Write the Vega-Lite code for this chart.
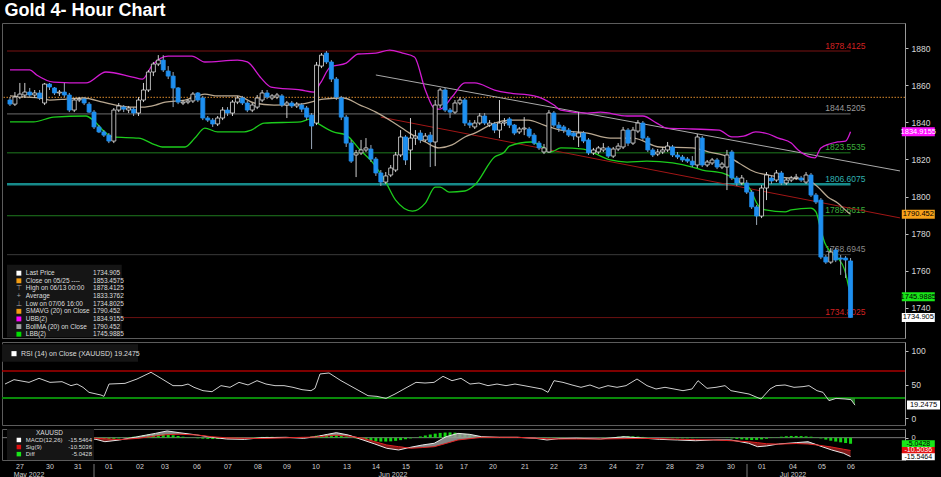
{
"$schema": "https://vega.github.io/schema/vega-lite/v6.json",
"background": "#000000",
"padding": {"top": 1, "left": 0, "right": 0, "bottom": 0},
"spacing": 2,
"title": {"text": "Gold 4- Hour Chart", "anchor": "start", "color": "#ffffff", "font": "Liberation Sans", "fontSize": 18, "fontWeight": "bold", "offset": 3, "dx": 4},
"config": {
  "view": {"stroke": "#5c5c5c", "strokeWidth": 1},
  "axis": {"labelColor": "#d8d8d8", "labelFont": "Liberation Sans", "labelFontSize": 8.5, "tickColor": "#c0c0c0", "tickSize": 3, "labelPadding": 3, "grid": false, "domain": true, "domainColor": "#9a9a9a"},
  "text": {"font": "Liberation Sans"}
},
"datasets": {
"candles": [
{"i":0,"o":1852.0,"h":1853.6,"l":1848.8,"c":1849.8},
{"i":1,"o":1849.8,"h":1856.3,"l":1848.8,"c":1853.6},
{"i":2,"o":1853.6,"h":1861.2,"l":1852.5,"c":1855.2},
{"i":3,"o":1854.7,"h":1861.2,"l":1853.1,"c":1856.3},
{"i":4,"o":1856.3,"h":1858.5,"l":1853.6,"c":1854.7},
{"i":5,"o":1854.7,"h":1857.4,"l":1853.1,"c":1855.8},
{"i":6,"o":1855.8,"h":1857.4,"l":1852.0,"c":1853.1},
{"i":7,"o":1850.4,"h":1861.2,"l":1849.3,"c":1860.6},
{"i":8,"o":1860.6,"h":1861.2,"l":1857.4,"c":1859.0},
{"i":9,"o":1858.5,"h":1859.0,"l":1854.7,"c":1855.8},
{"i":10,"o":1855.8,"h":1857.4,"l":1854.2,"c":1856.3},
{"i":11,"o":1856.3,"h":1861.2,"l":1853.6,"c":1854.7},
{"i":12,"o":1854.7,"h":1855.8,"l":1845.5,"c":1846.6},
{"i":13,"o":1846.6,"h":1853.1,"l":1845.5,"c":1852.0},
{"i":14,"o":1852.0,"h":1853.6,"l":1850.9,"c":1852.5},
{"i":15,"o":1852.5,"h":1853.6,"l":1849.3,"c":1850.4},
{"i":16,"o":1849.8,"h":1850.9,"l":1845.0,"c":1845.5},
{"i":17,"o":1845.5,"h":1846.6,"l":1836.4,"c":1837.5},
{"i":18,"o":1837.5,"h":1838.5,"l":1834.2,"c":1834.8},
{"i":19,"o":1834.8,"h":1835.8,"l":1832.1,"c":1833.1},
{"i":20,"o":1833.1,"h":1834.2,"l":1828.8,"c":1829.9},
{"i":21,"o":1829.9,"h":1847.7,"l":1828.8,"c":1846.6},
{"i":22,"o":1846.6,"h":1850.4,"l":1845.5,"c":1848.8},
{"i":23,"o":1848.2,"h":1849.3,"l":1845.5,"c":1847.1},
{"i":24,"o":1846.6,"h":1848.8,"l":1845.0,"c":1847.7},
{"i":25,"o":1847.1,"h":1848.2,"l":1843.4,"c":1845.0},
{"i":26,"o":1845.0,"h":1853.6,"l":1843.4,"c":1852.0},
{"i":27,"o":1852.0,"h":1861.2,"l":1850.9,"c":1857.4},
{"i":28,"o":1857.4,"h":1868.2,"l":1856.3,"c":1867.1},
{"i":29,"o":1867.1,"h":1872.5,"l":1864.9,"c":1871.4},
{"i":30,"o":1871.4,"h":1876.2,"l":1870.3,"c":1873.5},
{"i":31,"o":1873.5,"h":1876.2,"l":1867.1,"c":1868.2},
{"i":32,"o":1867.6,"h":1870.3,"l":1863.3,"c":1864.9},
{"i":33,"o":1864.9,"h":1867.1,"l":1848.2,"c":1858.5},
{"i":34,"o":1858.5,"h":1859.0,"l":1849.8,"c":1850.9},
{"i":35,"o":1850.4,"h":1852.0,"l":1849.3,"c":1850.9},
{"i":36,"o":1850.9,"h":1852.5,"l":1849.8,"c":1851.5},
{"i":37,"o":1851.5,"h":1856.3,"l":1850.4,"c":1855.2},
{"i":38,"o":1855.8,"h":1856.3,"l":1850.9,"c":1852.0},
{"i":39,"o":1853.1,"h":1854.2,"l":1841.2,"c":1842.3},
{"i":40,"o":1842.3,"h":1843.4,"l":1840.2,"c":1841.2},
{"i":41,"o":1841.2,"h":1842.3,"l":1837.5,"c":1839.1},
{"i":42,"o":1839.1,"h":1843.4,"l":1838.0,"c":1842.3},
{"i":43,"o":1842.3,"h":1848.2,"l":1841.2,"c":1846.6},
{"i":44,"o":1846.6,"h":1848.2,"l":1843.4,"c":1845.0},
{"i":45,"o":1845.0,"h":1852.0,"l":1843.4,"c":1850.9},
{"i":46,"o":1850.9,"h":1854.2,"l":1849.8,"c":1853.1},
{"i":47,"o":1853.1,"h":1854.2,"l":1849.3,"c":1850.4},
{"i":48,"o":1850.4,"h":1851.5,"l":1845.5,"c":1846.6},
{"i":49,"o":1846.6,"h":1850.4,"l":1845.5,"c":1849.3},
{"i":50,"o":1848.2,"h":1854.7,"l":1847.1,"c":1853.1},
{"i":51,"o":1852.0,"h":1857.4,"l":1850.9,"c":1855.8},
{"i":52,"o":1855.8,"h":1857.4,"l":1852.5,"c":1853.6},
{"i":53,"o":1853.1,"h":1855.2,"l":1852.0,"c":1854.2},
{"i":54,"o":1853.6,"h":1855.8,"l":1852.5,"c":1854.7},
{"i":55,"o":1854.2,"h":1855.2,"l":1848.2,"c":1849.3},
{"i":56,"o":1849.3,"h":1851.5,"l":1842.3,"c":1850.4},
{"i":57,"o":1850.4,"h":1851.5,"l":1847.7,"c":1848.8},
{"i":58,"o":1848.8,"h":1850.9,"l":1847.7,"c":1849.8},
{"i":59,"o":1849.3,"h":1850.4,"l":1845.5,"c":1847.1},
{"i":60,"o":1847.7,"h":1848.8,"l":1841.2,"c":1842.8},
{"i":61,"o":1843.9,"h":1845.0,"l":1825.6,"c":1838.0},
{"i":62,"o":1839.6,"h":1872.5,"l":1838.5,"c":1870.8},
{"i":63,"o":1870.3,"h":1877.3,"l":1869.2,"c":1876.2},
{"i":64,"o":1877.3,"h":1878.4,"l":1871.4,"c":1872.5},
{"i":65,"o":1872.5,"h":1873.5,"l":1861.7,"c":1863.3},
{"i":66,"o":1863.3,"h":1864.4,"l":1852.0,"c":1853.6},
{"i":67,"o":1853.1,"h":1854.2,"l":1841.2,"c":1842.8},
{"i":68,"o":1842.8,"h":1843.9,"l":1826.7,"c":1828.8},
{"i":69,"o":1828.8,"h":1830.5,"l":1818.1,"c":1819.1},
{"i":70,"o":1822.4,"h":1825.1,"l":1810.5,"c":1823.5},
{"i":71,"o":1823.5,"h":1830.5,"l":1822.4,"c":1825.1},
{"i":72,"o":1825.1,"h":1831.5,"l":1824.0,"c":1826.2},
{"i":73,"o":1825.6,"h":1827.8,"l":1818.6,"c":1820.2},
{"i":74,"o":1820.2,"h":1821.3,"l":1811.1,"c":1812.7},
{"i":75,"o":1812.7,"h":1814.3,"l":1805.7,"c":1807.8},
{"i":76,"o":1807.8,"h":1813.2,"l":1806.8,"c":1811.1},
{"i":77,"o":1811.6,"h":1817.0,"l":1810.5,"c":1815.4},
{"i":78,"o":1814.3,"h":1824.0,"l":1813.2,"c":1822.4},
{"i":79,"o":1822.4,"h":1835.8,"l":1821.3,"c":1832.1},
{"i":80,"o":1832.1,"h":1833.1,"l":1817.0,"c":1819.7},
{"i":81,"o":1825.1,"h":1842.3,"l":1814.3,"c":1831.5},
{"i":82,"o":1831.5,"h":1835.8,"l":1827.8,"c":1832.6},
{"i":83,"o":1834.2,"h":1835.8,"l":1828.8,"c":1830.5},
{"i":84,"o":1830.5,"h":1834.2,"l":1829.4,"c":1832.6},
{"i":85,"o":1833.1,"h":1834.8,"l":1815.9,"c":1829.4},
{"i":86,"o":1829.4,"h":1852.0,"l":1816.4,"c":1849.3},
{"i":87,"o":1849.3,"h":1858.5,"l":1847.7,"c":1857.4},
{"i":88,"o":1857.4,"h":1858.5,"l":1845.5,"c":1846.6},
{"i":89,"o":1846.6,"h":1847.7,"l":1842.3,"c":1845.5},
{"i":90,"o":1845.5,"h":1852.0,"l":1844.5,"c":1850.4},
{"i":91,"o":1850.4,"h":1853.6,"l":1849.3,"c":1852.0},
{"i":92,"o":1852.0,"h":1853.1,"l":1838.0,"c":1839.6},
{"i":93,"o":1839.6,"h":1841.2,"l":1836.9,"c":1838.5},
{"i":94,"o":1837.5,"h":1841.2,"l":1836.4,"c":1839.6},
{"i":95,"o":1839.6,"h":1845.0,"l":1838.5,"c":1843.4},
{"i":96,"o":1843.4,"h":1845.0,"l":1838.5,"c":1839.6},
{"i":97,"o":1838.5,"h":1841.2,"l":1837.5,"c":1839.6},
{"i":98,"o":1839.1,"h":1840.2,"l":1834.2,"c":1835.8},
{"i":99,"o":1835.8,"h":1852.0,"l":1831.5,"c":1839.6},
{"i":100,"o":1839.6,"h":1842.3,"l":1838.0,"c":1840.2},
{"i":101,"o":1841.8,"h":1842.8,"l":1836.9,"c":1838.5},
{"i":102,"o":1838.5,"h":1839.1,"l":1833.1,"c":1834.2},
{"i":103,"o":1834.8,"h":1837.5,"l":1833.7,"c":1836.4},
{"i":104,"o":1836.4,"h":1842.8,"l":1833.1,"c":1836.9},
{"i":105,"o":1836.4,"h":1837.5,"l":1831.5,"c":1832.6},
{"i":106,"o":1833.1,"h":1834.2,"l":1827.8,"c":1828.8},
{"i":107,"o":1828.8,"h":1829.9,"l":1825.1,"c":1826.2},
{"i":108,"o":1824.0,"h":1828.3,"l":1822.9,"c":1826.2},
{"i":109,"o":1824.0,"h":1846.6,"l":1823.5,"c":1845.0},
{"i":110,"o":1845.0,"h":1846.1,"l":1837.5,"c":1838.5},
{"i":111,"o":1838.5,"h":1840.2,"l":1834.8,"c":1836.9},
{"i":112,"o":1837.5,"h":1838.5,"l":1834.2,"c":1835.8},
{"i":113,"o":1835.8,"h":1836.9,"l":1832.1,"c":1833.1},
{"i":114,"o":1834.2,"h":1835.3,"l":1830.5,"c":1832.6},
{"i":115,"o":1832.1,"h":1845.5,"l":1826.7,"c":1834.2},
{"i":116,"o":1834.2,"h":1835.3,"l":1828.8,"c":1829.9},
{"i":117,"o":1830.5,"h":1831.5,"l":1822.4,"c":1823.5},
{"i":118,"o":1823.5,"h":1826.2,"l":1822.4,"c":1825.1},
{"i":119,"o":1824.0,"h":1827.2,"l":1822.9,"c":1826.2},
{"i":120,"o":1825.1,"h":1828.8,"l":1824.0,"c":1826.2},
{"i":121,"o":1826.2,"h":1827.2,"l":1820.8,"c":1821.8},
{"i":122,"o":1821.8,"h":1826.7,"l":1820.8,"c":1825.6},
{"i":123,"o":1825.6,"h":1828.8,"l":1824.5,"c":1827.2},
{"i":124,"o":1826.7,"h":1837.5,"l":1825.6,"c":1835.8},
{"i":125,"o":1835.8,"h":1836.9,"l":1827.2,"c":1828.8},
{"i":126,"o":1828.8,"h":1837.5,"l":1827.8,"c":1835.8},
{"i":127,"o":1835.3,"h":1841.2,"l":1834.2,"c":1839.6},
{"i":128,"o":1839.6,"h":1840.7,"l":1830.5,"c":1831.5},
{"i":129,"o":1831.5,"h":1832.6,"l":1824.0,"c":1825.1},
{"i":130,"o":1825.1,"h":1826.2,"l":1821.3,"c":1822.4},
{"i":131,"o":1822.9,"h":1825.6,"l":1821.8,"c":1824.0},
{"i":132,"o":1824.0,"h":1826.7,"l":1822.9,"c":1825.1},
{"i":133,"o":1825.1,"h":1829.4,"l":1824.0,"c":1827.2},
{"i":134,"o":1826.7,"h":1827.8,"l":1821.3,"c":1822.4},
{"i":135,"o":1822.4,"h":1824.0,"l":1820.2,"c":1821.3},
{"i":136,"o":1821.3,"h":1822.4,"l":1818.6,"c":1819.7},
{"i":137,"o":1820.2,"h":1821.3,"l":1818.1,"c":1819.1},
{"i":138,"o":1819.1,"h":1821.8,"l":1815.9,"c":1817.0},
{"i":139,"o":1817.0,"h":1833.7,"l":1815.4,"c":1832.1},
{"i":140,"o":1831.5,"h":1832.6,"l":1815.9,"c":1817.0},
{"i":141,"o":1817.0,"h":1819.7,"l":1815.9,"c":1818.6},
{"i":142,"o":1818.1,"h":1820.8,"l":1817.0,"c":1819.7},
{"i":143,"o":1819.7,"h":1820.8,"l":1814.8,"c":1815.9},
{"i":144,"o":1815.9,"h":1818.6,"l":1814.8,"c":1817.5},
{"i":145,"o":1815.9,"h":1825.1,"l":1803.5,"c":1822.4},
{"i":146,"o":1824.0,"h":1825.1,"l":1808.9,"c":1810.0},
{"i":147,"o":1810.0,"h":1811.1,"l":1805.7,"c":1807.3},
{"i":148,"o":1807.3,"h":1811.6,"l":1806.2,"c":1810.0},
{"i":149,"o":1807.3,"h":1808.9,"l":1801.4,"c":1802.4},
{"i":150,"o":1802.4,"h":1803.5,"l":1793.3,"c":1794.4},
{"i":151,"o":1794.4,"h":1795.4,"l":1784.7,"c":1789.5},
{"i":152,"o":1789.5,"h":1806.2,"l":1788.4,"c":1804.6},
{"i":153,"o":1804.6,"h":1813.2,"l":1798.1,"c":1811.6},
{"i":154,"o":1810.0,"h":1811.6,"l":1806.8,"c":1808.4},
{"i":155,"o":1808.9,"h":1814.3,"l":1807.8,"c":1812.7},
{"i":156,"o":1812.7,"h":1813.8,"l":1806.2,"c":1807.3},
{"i":157,"o":1807.3,"h":1810.0,"l":1806.2,"c":1808.9},
{"i":158,"o":1808.9,"h":1811.1,"l":1807.8,"c":1810.0},
{"i":159,"o":1810.0,"h":1812.2,"l":1808.9,"c":1810.5},
{"i":160,"o":1810.0,"h":1811.1,"l":1807.8,"c":1808.9},
{"i":161,"o":1807.8,"h":1813.2,"l":1806.8,"c":1811.6},
{"i":162,"o":1811.6,"h":1812.7,"l":1799.8,"c":1800.8},
{"i":163,"o":1800.8,"h":1801.9,"l":1796.0,"c":1797.1},
{"i":164,"o":1798.1,"h":1799.2,"l":1766.3,"c":1767.4},
{"i":165,"o":1767.4,"h":1768.5,"l":1763.7,"c":1764.7},
{"i":166,"o":1764.7,"h":1772.3,"l":1763.7,"c":1770.1},
{"i":167,"o":1771.2,"h":1772.3,"l":1764.7,"c":1765.8},
{"i":168,"o":1766.9,"h":1768.5,"l":1757.8,"c":1766.3},
{"i":169,"o":1766.9,"h":1768.0,"l":1756.1,"c":1765.8},
{"i":170,"o":1765.3,"h":1766.9,"l":1734.8,"c":1734.9}
],
"bands": [
{"b":"u","i":0,"v":1868.2},{"b":"u","i":4,"v":1868.2},{"b":"u","i":5.4,"v":1865.5},{"b":"u","i":8.8,"v":1861.7},{"b":"u","i":15.4,"v":1861.2},{"b":"u","i":19.4,"v":1867.1},{"b":"u","i":24.8,"v":1864.4},{"b":"u","i":26.8,"v":1863.3},{"b":"u","i":28.8,"v":1870.8},{"b":"u","i":32,"v":1875.7},{"b":"u","i":36.8,"v":1875.7},{"b":"u","i":39.4,"v":1872.5},{"b":"u","i":46,"v":1873.5},{"b":"u","i":48,"v":1872.5},{"b":"u","i":50.8,"v":1863.8},{"b":"u","i":52.8,"v":1859.0},{"b":"u","i":58.8,"v":1857.4},{"b":"u","i":61.4,"v":1856.3},{"b":"u","i":62.8,"v":1861.2},{"b":"u","i":64.8,"v":1869.8},{"b":"u","i":68,"v":1871.9},{"b":"u","i":70.4,"v":1876.8},{"b":"u","i":74,"v":1877.3},{"b":"u","i":76.8,"v":1878.9},{"b":"u","i":79.4,"v":1877.3},{"b":"u","i":81.8,"v":1875.2},{"b":"u","i":84,"v":1857.4},{"b":"u","i":86,"v":1847.1},{"b":"u","i":87,"v":1847.1},{"b":"u","i":89.4,"v":1853.6},{"b":"u","i":92,"v":1861.2},{"b":"u","i":94,"v":1861.2},{"b":"u","i":98,"v":1857.4},{"b":"u","i":100.8,"v":1855.8},{"b":"u","i":106,"v":1854.2},{"b":"u","i":110,"v":1849.3},{"b":"u","i":111.4,"v":1846.6},{"b":"u","i":116.8,"v":1845.0},{"b":"u","i":119.4,"v":1845.5},{"b":"u","i":124.8,"v":1843.4},{"b":"u","i":128,"v":1843.4},{"b":"u","i":130.8,"v":1839.6},{"b":"u","i":132.8,"v":1836.9},{"b":"u","i":138,"v":1836.4},{"b":"u","i":143.4,"v":1835.8},{"b":"u","i":146,"v":1832.1},{"b":"u","i":148.4,"v":1832.6},{"b":"u","i":150.8,"v":1834.8},{"b":"u","i":153.4,"v":1833.7},{"b":"u","i":155.4,"v":1831.5},{"b":"u","i":158,"v":1828.8},{"b":"u","i":159.4,"v":1825.1},{"b":"u","i":162.8,"v":1820.8},{"b":"u","i":164,"v":1826.2},{"b":"u","i":167.4,"v":1829.4},{"b":"u","i":169,"v":1829.9},{"b":"u","i":170,"v":1834.9},
{"b":"m","i":0,"v":1854.2},{"b":"m","i":3.4,"v":1853.6},{"b":"m","i":6,"v":1853.1},{"b":"m","i":8,"v":1852.0},{"b":"m","i":11.4,"v":1852.5},{"b":"m","i":14.8,"v":1853.1},{"b":"m","i":18.8,"v":1850.9},{"b":"m","i":21.4,"v":1849.3},{"b":"m","i":24.8,"v":1848.2},{"b":"m","i":26.8,"v":1848.2},{"b":"m","i":29.4,"v":1849.3},{"b":"m","i":31.4,"v":1850.9},{"b":"m","i":35.4,"v":1852.0},{"b":"m","i":38,"v":1854.2},{"b":"m","i":39.4,"v":1855.2},{"b":"m","i":42,"v":1854.2},{"b":"m","i":46,"v":1854.2},{"b":"m","i":49.4,"v":1850.4},{"b":"m","i":53.4,"v":1849.3},{"b":"m","i":58.8,"v":1849.8},{"b":"m","i":63.4,"v":1852.5},{"b":"m","i":67.4,"v":1853.1},{"b":"m","i":70.8,"v":1849.3},{"b":"m","i":74,"v":1845.5},{"b":"m","i":77.4,"v":1840.2},{"b":"m","i":80.8,"v":1834.2},{"b":"m","i":84,"v":1829.4},{"b":"m","i":86.8,"v":1826.2},{"b":"m","i":89.4,"v":1827.8},{"b":"m","i":92,"v":1832.1},{"b":"m","i":94,"v":1834.2},{"b":"m","i":98,"v":1839.6},{"b":"m","i":101.4,"v":1841.2},{"b":"m","i":104.8,"v":1841.2},{"b":"m","i":108,"v":1838.5},{"b":"m","i":111.4,"v":1835.8},{"b":"m","i":116.8,"v":1834.2},{"b":"m","i":121.4,"v":1831.5},{"b":"m","i":126,"v":1831.5},{"b":"m","i":131.4,"v":1826.7},{"b":"m","i":138,"v":1826.2},{"b":"m","i":141.4,"v":1824.0},{"b":"m","i":145.4,"v":1821.3},{"b":"m","i":147.4,"v":1818.1},{"b":"m","i":150.8,"v":1813.1},{"b":"m","i":153.4,"v":1811.6},{"b":"m","i":157.4,"v":1810.0},{"b":"m","i":161.4,"v":1808.9},{"b":"m","i":163.4,"v":1805.1},{"b":"m","i":165.4,"v":1799.8},{"b":"m","i":167.4,"v":1796.5},{"b":"m","i":169.4,"v":1791.7},{"b":"m","i":170,"v":1790.5},
{"b":"l","i":0,"v":1840.2},{"b":"l","i":4.8,"v":1840.2},{"b":"l","i":8.8,"v":1842.8},{"b":"l","i":15.4,"v":1843.4},{"b":"l","i":16.8,"v":1841.2},{"b":"l","i":19.4,"v":1834.2},{"b":"l","i":20.8,"v":1832.1},{"b":"l","i":26,"v":1831.5},{"b":"l","i":29.4,"v":1827.8},{"b":"l","i":30.8,"v":1826.7},{"b":"l","i":35.4,"v":1826.7},{"b":"l","i":37.4,"v":1831.5},{"b":"l","i":39.4,"v":1836.9},{"b":"l","i":42,"v":1834.8},{"b":"l","i":47.4,"v":1834.8},{"b":"l","i":48.8,"v":1835.8},{"b":"l","i":51.4,"v":1839.6},{"b":"l","i":58.8,"v":1840.2},{"b":"l","i":60.8,"v":1841.8},{"b":"l","i":61.8,"v":1840.2},{"b":"l","i":65.4,"v":1834.8},{"b":"l","i":68,"v":1833.1},{"b":"l","i":70.8,"v":1825.1},{"b":"l","i":73.4,"v":1818.1},{"b":"l","i":76,"v":1807.8},{"b":"l","i":78,"v":1798.1},{"b":"l","i":81.4,"v":1792.2},{"b":"l","i":84,"v":1796.5},{"b":"l","i":86,"v":1805.1},{"b":"l","i":87,"v":1805.1},{"b":"l","i":88.8,"v":1802.4},{"b":"l","i":92,"v":1803.0},{"b":"l","i":94,"v":1806.2},{"b":"l","i":98,"v":1821.3},{"b":"l","i":100,"v":1824.0},{"b":"l","i":101,"v":1827.2},{"b":"l","i":105.4,"v":1829.4},{"b":"l","i":108,"v":1826.2},{"b":"l","i":109.4,"v":1824.0},{"b":"l","i":111.4,"v":1826.2},{"b":"l","i":116,"v":1825.6},{"b":"l","i":118,"v":1823.5},{"b":"l","i":121.4,"v":1819.7},{"b":"l","i":124.8,"v":1818.6},{"b":"l","i":128.8,"v":1819.1},{"b":"l","i":134,"v":1818.1},{"b":"l","i":138,"v":1815.9},{"b":"l","i":140,"v":1814.3},{"b":"l","i":144,"v":1812.7},{"b":"l","i":146,"v":1810.5},{"b":"l","i":148,"v":1807.3},{"b":"l","i":149.4,"v":1805.1},{"b":"l","i":151.4,"v":1794.9},{"b":"l","i":152.8,"v":1792.8},{"b":"l","i":156.8,"v":1791.7},{"b":"l","i":158,"v":1792.8},{"b":"l","i":162,"v":1793.8},{"b":"l","i":163,"v":1791.7},{"b":"l","i":164,"v":1782.0},{"b":"l","i":164.8,"v":1775.0},{"b":"l","i":166,"v":1770.1},{"b":"l","i":167.4,"v":1766.9},{"b":"l","i":168.8,"v":1760.5},{"b":"l","i":170,"v":1746.0}
],
"fib": [
{"lvl":"100","v":1878.4125},{"lvl":"76.4","v":1844.5205},{"lvl":"61.8","v":1823.5535},{"lvl":"50","v":1806.6075},{"lvl":"38.2","v":1789.6615},{"lvl":"23.6","v":1768.6945},{"lvl":"0","v":1734.8025}
],
"trend": [
{"t":"g","i":74,"v":1865.5},{"t":"g","i":180,"v":1813.8},{"t":"r","i":75,"v":1842.8},{"t":"r","i":180,"v":1788.5}
],
"boxes": [
{"k":"ubb","v":1834.9155,"t":"1834.9155"},{"k":"sma","v":1790.452,"t":"1790.452"},{"k":"lbb","v":1745.9885,"t":"1745.9885"},{"k":"last","v":1734.905,"t":"1734.905"}
],
"leg": [
{"r":0,"k":"last","lab":"Last Price","val":"1734.905"},
{"r":1,"k":"close","lab":"Close on 05/25 ----","val":"1853.4575"},
{"r":2,"k":"high","ic":"⊤","lab":"High on 06/13 00:00","val":"1878.4125"},
{"r":3,"k":"avg","ic":"+","lab":"Average","val":"1833.3762"},
{"r":4,"k":"low","ic":"⊥","lab":"Low on 07/06 16:00","val":"1734.8025"},
{"r":5,"k":"sma","lab":"SMAVG (20) on Close","val":"1790.452"},
{"r":6,"k":"ubb","lab":"UBB(2)","val":"1834.9155"},
{"r":7,"k":"bma","lab":"BollMA (20) on Close","val":"1790.452"},
{"r":8,"k":"lbb","lab":"LBB(2)","val":"1745.9885"}
],
"rsi": [
{"i":0,"v":50.7},{"i":1.8,"v":57.2},{"i":4.8,"v":53.2},{"i":6.8,"v":59.2},{"i":9,"v":53.2},{"i":11.4,"v":54.2},{"i":13.2,"v":48.3},{"i":14.4,"v":50.7},{"i":15.6,"v":45.8},{"i":16.8,"v":38.3},{"i":19.2,"v":34.3},{"i":19.8,"v":32.3},{"i":20.8,"v":50.7},{"i":24,"v":51.7},{"i":26.4,"v":58.2},{"i":29.2,"v":68.2},{"i":31.2,"v":59.2},{"i":33.6,"v":48.3},{"i":35.4,"v":48.3},{"i":36.6,"v":50.7},{"i":37.8,"v":45.8},{"i":39.6,"v":40.8},{"i":41.4,"v":39.3},{"i":43.2,"v":48.3},{"i":45,"v":45.8},{"i":46.8,"v":53.2},{"i":48.6,"v":49.3},{"i":50.4,"v":55.7},{"i":52.2,"v":50.7},{"i":54,"v":48.3},{"i":55.8,"v":48.3},{"i":57.6,"v":45.8},{"i":59.4,"v":42.3},{"i":61.2,"v":40.8},{"i":62,"v":44.3},{"i":63,"v":65.7},{"i":64.8,"v":67.2},{"i":67.2,"v":55.7},{"i":70.2,"v":43.3},{"i":72.6,"v":33.3},{"i":74.4,"v":32.3},{"i":76.2,"v":29.3},{"i":78,"v":35.8},{"i":79.8,"v":43.3},{"i":82.2,"v":53.2},{"i":84,"v":52.2},{"i":85.8,"v":53.2},{"i":87.6,"v":62.2},{"i":89.4,"v":55.7},{"i":91.2,"v":59.2},{"i":93,"v":50.7},{"i":94.8,"v":52.2},{"i":96.6,"v":48.3},{"i":98.4,"v":50.7},{"i":100.2,"v":48.3},{"i":102,"v":50.7},{"i":103.8,"v":48.3},{"i":105.6,"v":45.8},{"i":107.4,"v":43.3},{"i":108.6,"v":38.3},{"i":109.8,"v":55.7},{"i":111.6,"v":53.2},{"i":113.4,"v":49.3},{"i":115.2,"v":45.8},{"i":117,"v":49.3},{"i":118.8,"v":44.3},{"i":120.6,"v":48.3},{"i":122.4,"v":45.8},{"i":124.2,"v":48.3},{"i":126.4,"v":58.2},{"i":128.4,"v":48.3},{"i":130.2,"v":43.3},{"i":132,"v":45.8},{"i":133.8,"v":43.3},{"i":135.6,"v":40.8},{"i":137.4,"v":43.3},{"i":138.6,"v":55.7},{"i":140.4,"v":44.3},{"i":142.2,"v":45.8},{"i":144,"v":48.3},{"i":145.2,"v":40.8},{"i":147,"v":38.3},{"i":148.8,"v":35.8},{"i":150.4,"v":30.8},{"i":151.2,"v":28.4},{"i":153,"v":43.3},{"i":154.2,"v":48.3},{"i":156,"v":49.3},{"i":157.8,"v":45.8},{"i":159.6,"v":46.8},{"i":160.8,"v":48.3},{"i":162.4,"v":40.8},{"i":163.6,"v":38.3},{"i":164.8,"v":25.9},{"i":166.2,"v":29.3},{"i":168,"v":28.4},{"i":169.2,"v":27.4},{"i":170,"v":19.2}
],
"rsifill": [
{"s":"a","i":75.8,"v":30},{"s":"a","i":76.2,"v":29.3},{"s":"a","i":76.5,"v":30},
{"s":"b","i":150.7,"v":30},{"s":"b","i":151.2,"v":28.4},{"s":"b","i":151.5,"v":30},
{"s":"c","i":164.4,"v":30},{"s":"c","i":164.8,"v":25.9},{"s":"c","i":166.2,"v":29.3},{"s":"c","i":168,"v":28.4},{"s":"c","i":169.2,"v":27.4},{"s":"c","i":170,"v":19.2}
],
"macd": [
{"i":0,"m":2.2,"s":1.6,"hi":2.2},{"i":4.2,"m":1.6,"s":1.3,"hi":1.6},{"i":9,"m":0.8,"s":1.0,"hi":1.0},{"i":13.8,"m":0.3,"s":0.3,"hi":0.3},{"i":17.4,"m":-1.4,"s":-0.5,"hi":-0.5},{"i":19.2,"m":-3.3,"s":-0.9,"hi":-0.9},{"i":22.2,"m":-1.9,"s":-1.6,"hi":-1.6},{"i":25.8,"m":0.8,"s":-0.6,"hi":0.8},{"i":29.4,"m":3.5,"s":1.4,"hi":3.5},{"i":31.8,"m":5.5,"s":2.5,"hi":5.5},{"i":34.2,"m":4.1,"s":2.8,"hi":4.1},{"i":37.8,"m":2.2,"s":2.2,"hi":2.2},{"i":40.8,"m":0.3,"s":0.8,"hi":0.8},{"i":43.8,"m":-1.1,"s":-0.1,"hi":-0.1},{"i":47.4,"m":-1.4,"s":-0.5,"hi":-0.5},{"i":51,"m":0,"s":-0.7,"hi":0},{"i":55.8,"m":0.3,"s":-0.1,"hi":0.3},{"i":59.4,"m":-0.5,"s":0.3,"hi":0.3},{"i":61.8,"m":0.8,"s":0.5,"hi":0.8},{"i":64.2,"m":2.7,"s":1.4,"hi":2.7},{"i":66,"m":4.1,"s":2.0,"hi":4.1},{"i":68.4,"m":2.2,"s":1.2,"hi":2.2},{"i":71.4,"m":-1.9,"s":-0.5,"hi":-0.5},{"i":73.8,"m":-5.2,"s":-3.3,"hi":-3.3},{"i":76.2,"m":-8.7,"s":-6.0,"hi":-6.0},{"i":78.6,"m":-10.1,"s":-7.4,"hi":-7.4},{"i":81,"m":-7.9,"s":-8.7,"hi":-7.9},{"i":83.4,"m":-6.0,"s":-8.1,"hi":-6.0},{"i":85.8,"m":-4.6,"s":-7.4,"hi":-4.6},{"i":88.2,"m":0.8,"s":-4.7,"hi":0.8},{"i":90.6,"m":3.5,"s":-1.9,"hi":3.5},{"i":93,"m":2.7,"s":-0.8,"hi":2.7},{"i":95.4,"m":0.8,"s":0.3,"hi":0.8},{"i":99,"m":0.3,"s":0.3,"hi":0.3},{"i":102.6,"m":0.3,"s":0.3,"hi":0.3},{"i":106.2,"m":-0.5,"s":-0.4,"hi":-0.4},{"i":108.6,"m":-1.9,"s":-0.9,"hi":-0.9},{"i":111,"m":-0.8,"s":-1.1,"hi":-0.8},{"i":114.6,"m":-0.5,"s":-1.1,"hi":-0.5},{"i":119.4,"m":-1.1,"s":-1.1,"hi":-1.1},{"i":124.2,"m":0.8,"s":-0.8,"hi":0.8},{"i":127.8,"m":-0.3,"s":-0.6,"hi":-0.3},{"i":131.4,"m":-1.4,"s":-0.8,"hi":-0.8},{"i":135,"m":-1.9,"s":-1.3,"hi":-1.3},{"i":138.6,"m":-2.5,"s":-1.6,"hi":-1.6},{"i":142.2,"m":-1.9,"s":-1.8,"hi":-1.8},{"i":145.8,"m":-1.9,"s":-2.5,"hi":-1.9},{"i":149.4,"m":-4.6,"s":-3.3,"hi":-3.3},{"i":151.2,"m":-7.4,"s":-4.1,"hi":-4.1},{"i":153,"m":-6.8,"s":-5.0,"hi":-5.0},{"i":155.4,"m":-5.2,"s":-5.3,"hi":-5.2},{"i":159,"m":-4.1,"s":-4.8,"hi":-4.1},{"i":161.4,"m":-3.3,"s":-5.2,"hi":-3.3},{"i":163.8,"m":-6.8,"s":-6.3,"hi":-6.3},{"i":166.2,"m":-10.1,"s":-7.7,"hi":-7.7},{"i":168.6,"m":-12.8,"s":-9.5,"hi":-9.5},{"i":170,"m":-15.5,"s":-10.5,"hi":-10.5}
],
"hist": [
{"i":0,"d":0.6},{"i":1,"d":0.5},{"i":2,"d":0.5},{"i":3,"d":0.4},{"i":4,"d":0.4},{"i":5,"d":0.3},{"i":6,"d":0.3},{"i":7,"d":0.2},{"i":8,"d":0.2},{"i":9,"d":0.1},{"i":10,"d":0.1},{"i":11,"d":0},{"i":12,"d":-0.1},{"i":13,"d":-0.2},{"i":14,"d":-0.3},
{"i":15,"d":-0.5},{"i":16,"d":-0.8},{"i":17,"d":-1.1},{"i":18,"d":-1.4},{"i":19,"d":-1.6},{"i":20,"d":-1.4},{"i":21,"d":-1.0},{"i":22,"d":-0.6},{"i":23,"d":-0.2},{"i":24,"d":0.3},
{"i":25,"d":0.8},{"i":26,"d":1.4},{"i":27,"d":2.0},{"i":28,"d":2.6},{"i":29,"d":3.0},{"i":30,"d":3.2},{"i":31,"d":3.0},{"i":32,"d":2.6},{"i":33,"d":2.0},{"i":34,"d":1.4},{"i":35,"d":0.8},{"i":36,"d":0.3},
{"i":37,"d":-0.2},{"i":38,"d":-0.5},{"i":39,"d":-0.8},{"i":40,"d":-1.0},{"i":41,"d":-1.1},{"i":42,"d":-1.1},{"i":43,"d":-1.0},{"i":44,"d":-0.8},{"i":45,"d":-0.6},{"i":46,"d":-0.4},{"i":47,"d":-0.2},
{"i":48,"d":0.1},{"i":49,"d":0.3},{"i":50,"d":0.5},{"i":51,"d":0.6},{"i":52,"d":0.7},{"i":53,"d":0.7},{"i":54,"d":0.6},{"i":55,"d":0.5},{"i":56,"d":0.3},{"i":57,"d":0.2},{"i":58,"d":0},{"i":59,"d":-0.2},
{"i":60,"d":0.3},{"i":61,"d":0.9},{"i":62,"d":1.6},{"i":63,"d":2.2},{"i":64,"d":2.6},{"i":65,"d":2.6},{"i":66,"d":2.2},{"i":67,"d":1.6},{"i":68,"d":0.9},{"i":69,"d":0.2},
{"i":70,"d":-0.6},{"i":71,"d":-1.4},{"i":72,"d":-2.0},{"i":73,"d":-2.6},{"i":74,"d":-3.0},{"i":75,"d":-3.2},{"i":76,"d":-3.2},{"i":77,"d":-3.0},{"i":78,"d":-2.6},{"i":79,"d":-2.0},{"i":80,"d":-1.3},{"i":81,"d":-0.6},{"i":82,"d":0.2},{"i":83,"d":1.0},{"i":84,"d":1.8},
{"i":85,"d":2.6},{"i":86,"d":3.3},{"i":87,"d":3.9},{"i":88,"d":4.2},{"i":89,"d":4.3},{"i":90,"d":4.1},{"i":91,"d":3.7},{"i":92,"d":3.1},{"i":93,"d":2.5},{"i":94,"d":1.8},{"i":95,"d":1.2},{"i":96,"d":0.6},{"i":97,"d":0.2},
{"i":98,"d":-0.1},{"i":99,"d":-0.2},{"i":100,"d":-0.3},{"i":101,"d":-0.3},{"i":102,"d":-0.2},{"i":103,"d":-0.1},{"i":104,"d":0},{"i":105,"d":0.1},{"i":106,"d":0},{"i":107,"d":-0.2},{"i":108,"d":-0.4},{"i":109,"d":-0.5},{"i":110,"d":-0.4},{"i":111,"d":-0.3},{"i":112,"d":-0.2},{"i":113,"d":-0.1},{"i":114,"d":0},{"i":115,"d":0.1},{"i":116,"d":0.1},{"i":117,"d":0},{"i":118,"d":-0.1},{"i":119,"d":-0.2},{"i":120,"d":-0.2},
{"i":121,"d":0.2},{"i":122,"d":0.5},{"i":123,"d":0.8},{"i":124,"d":1.1},{"i":125,"d":1.2},{"i":126,"d":1.1},{"i":127,"d":0.9},{"i":128,"d":0.6},{"i":129,"d":0.3},{"i":130,"d":0.1},{"i":131,"d":0},
{"i":132,"d":-0.2},{"i":133,"d":-0.3},{"i":134,"d":-0.4},{"i":135,"d":-0.5},{"i":136,"d":-0.5},{"i":137,"d":-0.5},{"i":138,"d":-0.4},{"i":139,"d":-0.3},{"i":140,"d":-0.2},{"i":141,"d":-0.1},{"i":142,"d":0},{"i":143,"d":0},{"i":144,"d":-0.1},{"i":145,"d":-0.3},
{"i":146,"d":-0.6},{"i":147,"d":-1.0},{"i":148,"d":-1.4},{"i":149,"d":-1.7},{"i":150,"d":-1.9},{"i":151,"d":-1.8},{"i":152,"d":-1.4},{"i":153,"d":-0.9},
{"i":154,"d":-0.3},{"i":155,"d":0.3},{"i":156,"d":0.8},{"i":157,"d":1.2},{"i":158,"d":1.4},{"i":159,"d":1.4},{"i":160,"d":1.3},{"i":161,"d":1.1},{"i":162,"d":0.8},{"i":163,"d":0.3},
{"i":164,"d":-0.6},{"i":165,"d":-1.6},{"i":166,"d":-2.5},{"i":167,"d":-3.2},{"i":168,"d":-3.8},{"i":169,"d":-4.4},{"i":170,"d":-5.0}
],
"macdleg": [
{"n":1,"k":"m","lab":"MACD(12,26)","val":"-15.5464"},
{"n":2,"k":"s","lab":"Sig(9)","val":"-10.5036"},
{"n":3,"k":"d","lab":"Diff","val":"-5.0428"}
],
"macdbox": [
{"k":"d","v":-5.0428,"t":"-5.0428"},{"k":"s","v":-10.5036,"t":"-10.5036"},{"k":"m","v":-15.5464,"t":"-15.5464"}
],
"days": [
{"i":3,"t":"27"},{"i":9,"t":"30"},{"i":14.6,"t":"31"},{"i":20.8,"t":"01"},{"i":27,"t":"02"},{"i":32,"t":"03"},{"i":38.4,"t":"06"},{"i":44.6,"t":"07"},{"i":50.6,"t":"08"},{"i":56.4,"t":"09"},{"i":62.2,"t":"10"},{"i":68.4,"t":"13"},{"i":74.2,"t":"14"},{"i":80.2,"t":"15"},{"i":86.8,"t":"16"},{"i":91.8,"t":"17"},{"i":97.6,"t":"20"},{"i":104,"t":"21"},{"i":109.8,"t":"22"},{"i":115.6,"t":"23"},{"i":121.6,"t":"24"},{"i":127,"t":"27"},{"i":133,"t":"28"},{"i":139,"t":"29"},{"i":145.2,"t":"30"},{"i":151.4,"t":"01"},{"i":157.6,"t":"04"},{"i":163.4,"t":"05"},{"i":169.2,"t":"06"}
],
"months": [
{"i":4.8,"t":"May 2022"},{"i":77.6,"t":"Jun 2022"},{"i":157.6,"t":"Jul 2022"}
]
},
"vconcat": [
{
 "width": 903, "height": 315,
 "resolve": {"scale": {"y": "independent", "color": "independent"}},
 "layer": [
  {
   "resolve": {"scale": {"color": "independent"}},
   "layer": [
    {"data": {"values": [{"v": 1853.4575}]}, "mark": {"type": "rule", "color": "#d98a2b", "strokeDash": [1.5, 1.5], "strokeWidth": 1},
     "encoding": {"y": {"field": "v", "type": "quantitative", "title": null, "scale": {"domain": [1723.8, 1893.5], "nice": false, "zero": false}, "axis": {"orient": "right", "values": [1740, 1760, 1780, 1800, 1820, 1840, 1860, 1880], "format": "d", "title": null}}}},
    {"data": {"name": "fib"}, "mark": {"type": "rule"},
     "encoding": {"x": {"datum": -0.6, "type": "quantitative", "scale": {"domain": [-0.6, 180], "nice": false, "zero": false}, "axis": null}, "x2": {"datum": 170},
      "y": {"field": "v", "type": "quantitative", "title": null},
      "color": {"field": "lvl", "type": "nominal", "scale": {"domain": ["100","76.4","61.8","50","38.2","23.6","0"], "range": ["#7a1212","#6c6c6c","#1f7a1f","#168a8a","#1f7a1f","#3a3a3a","#6a1010"]}, "legend": null},
      "strokeWidth": {"condition": {"test": "datum.lvl == '50'", "value": 2.5}, "value": 1}}},
    {"data": {"name": "fib"}, "mark": {"type": "text", "align": "right", "baseline": "bottom", "dy": -0.5, "fontSize": 8.5},
     "encoding": {"x": {"datum": 173, "axis": null}, "y": {"field": "v", "type": "quantitative", "title": null},
      "text": {"field": "v", "type": "quantitative", "format": ".4f"},
      "color": {"field": "lvl", "type": "nominal", "scale": {"domain": ["100","76.4","61.8","50","38.2","23.6","0"], "range": ["#d42020","#9a9a9a","#3cae3c","#30b0b0","#3cae3c","#8a8a8a","#d42020"]}, "legend": null}}},
    {"data": {"name": "trend"}, "mark": {"type": "line", "strokeWidth": 1},
     "encoding": {"x": {"field": "i", "type": "quantitative", "axis": null}, "y": {"field": "v", "type": "quantitative", "title": null},
      "color": {"field": "t", "type": "nominal", "scale": {"domain": ["g", "r"], "range": ["#a9a9a9", "#a11616"]}, "legend": null}}},
    {"data": {"name": "bands"}, "mark": {"type": "line", "strokeWidth": 1.3, "interpolate": "monotone"},
     "encoding": {"x": {"field": "i", "type": "quantitative", "axis": null}, "y": {"field": "v", "type": "quantitative", "title": null},
      "color": {"field": "b", "type": "nominal", "scale": {"domain": ["u", "m", "l"], "range": ["#d21bd2", "#b9a891", "#1ccc1c"]}, "legend": null}}},
    {"data": {"name": "candles"}, "mark": {"type": "rule", "strokeWidth": 1},
     "encoding": {"x": {"field": "i", "type": "quantitative", "axis": null}, "y": {"field": "l", "type": "quantitative", "title": null}, "y2": {"field": "h"},
      "color": {"condition": {"test": "datum.c > datum.o", "value": "#cfcfcf"}, "value": "#9aa8b8"}}},
    {"data": {"name": "candles"}, "mark": {"type": "bar", "size": 4, "strokeWidth": 0.8},
     "encoding": {"x": {"field": "i", "type": "quantitative", "axis": null}, "y": {"field": "o", "type": "quantitative", "title": null}, "y2": {"field": "c"},
      "fill": {"condition": {"test": "datum.c > datum.o", "value": "#000000"}, "value": "#1e8ff0"},
      "stroke": {"condition": {"test": "datum.c > datum.o", "value": "#e0e0e0"}, "value": "#1e8ff0"}}},
    {"data": {"name": "boxes"}, "mark": {"type": "tick", "orient": "horizontal", "thickness": 9, "size": 33, "opacity": 1},
     "encoding": {"x": {"datum": 183.7, "axis": null}, "y": {"field": "v", "type": "quantitative", "title": null},
      "color": {"field": "k", "type": "nominal", "scale": {"domain": ["ubb","sma","lbb","last"], "range": ["#ff10ff","#f7a21b","#19e619","#ffffff"]}, "legend": null}}},
    {"data": {"name": "boxes"}, "mark": {"type": "text", "fontSize": 7.5, "align": "center", "baseline": "middle"},
     "encoding": {"x": {"datum": 183.7, "axis": null}, "y": {"field": "v", "type": "quantitative", "title": null}, "text": {"field": "t"},
      "color": {"condition": {"test": "datum.k == 'ubb'", "value": "#ffffff"}, "value": "#000000"}}}
   ]
  },
  {
   "layer": [
    {"data": {"values": [{}]}, "mark": {"type": "rect", "color": "#151515"},
     "encoding": {"x": {"datum": -0.6, "axis": null}, "x2": {"datum": 22.6},
      "y": {"datum": -1.1, "type": "quantitative", "scale": {"domain": [-32.8, 8.5], "reverse": true, "nice": false, "zero": false}, "axis": null}, "y2": {"datum": 8.4}}},
    {"data": {"name": "leg"}, "transform": [{"filter": "!datum.ic"}], "mark": {"type": "point", "shape": "square", "filled": true, "size": 24, "opacity": 1},
     "encoding": {"x": {"datum": 1.8, "axis": null}, "y": {"field": "r", "type": "quantitative", "axis": null},
      "color": {"field": "k", "type": "nominal", "scale": {"domain": ["last","close","sma","ubb","bma","lbb"], "range": ["#ffffff","#f39c12","#f39c12","#ff00ff","#a0a0a0","#00e000"]}, "legend": null}}},
    {"data": {"name": "leg"}, "transform": [{"filter": "datum.ic"}], "mark": {"type": "text", "fontSize": 7, "color": "#aaaaaa", "align": "center", "baseline": "middle"},
     "encoding": {"x": {"datum": 1.8, "axis": null}, "y": {"field": "r", "type": "quantitative", "axis": null}, "text": {"field": "ic"}}},
    {"data": {"name": "leg"}, "mark": {"type": "text", "fontSize": 6.5, "color": "#dddddd", "align": "left", "baseline": "middle"},
     "encoding": {"x": {"datum": 3.2, "axis": null}, "y": {"field": "r", "type": "quantitative", "axis": null}, "text": {"field": "lab"}}},
    {"data": {"name": "leg"}, "mark": {"type": "text", "fontSize": 6.5, "color": "#dddddd", "align": "left", "baseline": "middle"},
     "encoding": {"x": {"datum": 16.8, "axis": null}, "y": {"field": "r", "type": "quantitative", "axis": null}, "text": {"field": "val"}}}
   ]
  }
 ]
},
{
 "width": 903, "height": 83,
 "layer": [
  {"data": {"values": [{"v": 70}, {"v": 30}]}, "mark": {"type": "rule"},
   "encoding": {"y": {"field": "v", "type": "quantitative", "title": null, "scale": {"domain": [-10.4, 113.4], "nice": false, "zero": false}, "axis": {"orient": "right", "values": [0, 50, 100], "title": null}},
    "color": {"condition": {"test": "datum.v > 50", "value": "#a80000"}, "value": "#0a8a0a"},
    "strokeWidth": {"condition": {"test": "datum.v > 50", "value": 1.5}, "value": 2}}},
  {"data": {"name": "rsifill"}, "mark": {"type": "area", "color": "#2e8b2e", "opacity": 0.9},
   "encoding": {"x": {"field": "i", "type": "quantitative", "scale": {"domain": [-0.6, 180], "nice": false, "zero": false}, "axis": null},
    "y": {"field": "v", "type": "quantitative", "title": null}, "y2": {"datum": 30}, "detail": {"field": "s"}}},
  {"data": {"name": "rsi"}, "mark": {"type": "line", "color": "#cfcfcf", "strokeWidth": 1},
   "encoding": {"x": {"field": "i", "type": "quantitative", "axis": null}, "y": {"field": "v", "type": "quantitative", "title": null}}},
  {"data": {"values": [{}]}, "mark": {"type": "rect", "color": "#151515"},
   "encoding": {"x": {"datum": -0.6, "axis": null}, "x2": {"datum": 26.6}, "y": {"datum": 110}, "y2": {"datum": 84}}},
  {"data": {"values": [{}]}, "mark": {"type": "point", "shape": "square", "filled": true, "size": 26, "opacity": 1, "color": "#ffffff"},
   "encoding": {"x": {"datum": 1.8, "axis": null}, "y": {"datum": 96}}},
  {"data": {"values": [{}]}, "mark": {"type": "text", "fontSize": 7, "color": "#dddddd", "align": "left", "baseline": "middle"},
   "encoding": {"x": {"datum": 3.2, "axis": null}, "y": {"datum": 96}, "text": {"value": "RSI (14)  on Close (XAUUSD) 19.2475"}}},
  {"data": {"values": [{}]}, "mark": {"type": "tick", "orient": "horizontal", "thickness": 9, "size": 33, "opacity": 1, "color": "#ffffff"},
   "encoding": {"x": {"datum": 183.7, "axis": null}, "y": {"datum": 19.2475}}},
  {"data": {"values": [{}]}, "mark": {"type": "text", "fontSize": 7.5, "color": "#000000", "align": "center", "baseline": "middle"},
   "encoding": {"x": {"datum": 183.7, "axis": null}, "y": {"datum": 19.2475}, "text": {"value": "19.2475"}}}
 ]
},
{
 "width": 903, "height": 31,
 "resolve": {"scale": {"y": "independent", "color": "independent"}},
 "layer": [
  {
   "resolve": {"scale": {"color": "independent"}},
   "layer": [
    {"data": {"values": [{"v": 0}]}, "mark": {"type": "rule", "color": "#7a7a7a"},
     "encoding": {"y": {"field": "v", "type": "quantitative", "title": null, "scale": {"domain": [-18.3, 7.1], "nice": false, "zero": false}, "axis": {"orient": "right", "values": [0], "title": null, "labelFontSize": 7.5}}}},
    {"data": {"name": "hist"}, "mark": {"type": "bar", "size": 3, "color": "#14d414"},
     "encoding": {"x": {"field": "i", "type": "quantitative", "scale": {"domain": [-0.6, 180], "nice": false, "zero": false}, "axis": null},
      "y": {"field": "d", "type": "quantitative", "title": null}, "y2": {"datum": 0}}},
    {"data": {"name": "macd"}, "mark": {"type": "area", "color": "#9c9c9c", "opacity": 0.85},
     "encoding": {"x": {"field": "i", "type": "quantitative", "axis": null}, "y": {"field": "s", "type": "quantitative", "title": null}, "y2": {"field": "hi"}}},
    {"data": {"name": "macd"}, "mark": {"type": "area", "color": "#8e1c1c", "opacity": 0.9},
     "encoding": {"x": {"field": "i", "type": "quantitative", "axis": null}, "y": {"field": "m", "type": "quantitative", "title": null}, "y2": {"field": "hi"}}},
    {"data": {"name": "macd"}, "mark": {"type": "line", "color": "#e8e8e8", "strokeWidth": 1},
     "encoding": {"x": {"field": "i", "type": "quantitative", "axis": null}, "y": {"field": "m", "type": "quantitative", "title": null}}},
    {"data": {"name": "macd"}, "mark": {"type": "line", "color": "#e02020", "strokeWidth": 1},
     "encoding": {"x": {"field": "i", "type": "quantitative", "axis": null}, "y": {"field": "s", "type": "quantitative", "title": null}}},
    {"data": {"values": [{}]}, "mark": {"type": "rect", "color": "#151515"},
     "encoding": {"x": {"datum": -0.6, "axis": null}, "x2": {"datum": 17}, "y": {"datum": 7.1}, "y2": {"datum": -18.3}}},
    {"data": {"name": "macdbox"}, "mark": {"type": "tick", "orient": "horizontal", "thickness": 7, "size": 33, "opacity": 1},
     "encoding": {"x": {"datum": 183.7, "axis": null}, "y": {"field": "v", "type": "quantitative", "title": null},
      "color": {"field": "k", "type": "nominal", "scale": {"domain": ["d", "s", "m"], "range": ["#19e619", "#e01010", "#ffffff"]}, "legend": null}}},
    {"data": {"name": "macdbox"}, "mark": {"type": "text", "fontSize": 7, "align": "center", "baseline": "middle"},
     "encoding": {"x": {"datum": 183.7, "axis": null}, "y": {"field": "v", "type": "quantitative", "title": null}, "text": {"field": "t"},
      "color": {"condition": {"test": "datum.k == 's'", "value": "#ffffff"}, "value": "#000000"}}}
   ]
  },
  {
   "layer": [
    {"data": {"values": [{}]}, "mark": {"type": "text", "fontSize": 6.5, "color": "#dddddd", "align": "center", "baseline": "middle"},
     "encoding": {"x": {"datum": 8, "axis": null}, "y": {"datum": 0, "type": "quantitative", "scale": {"domain": [-0.55, 3.83], "reverse": true, "nice": false, "zero": false}, "axis": null}, "text": {"value": "XAUUSD"}}},
    {"data": {"name": "macdleg"}, "mark": {"type": "point", "shape": "square", "filled": true, "size": 20, "opacity": 1},
     "encoding": {"x": {"datum": 1.8, "axis": null}, "y": {"field": "n", "type": "quantitative", "axis": null},
      "color": {"field": "k", "type": "nominal", "scale": {"domain": ["m", "s", "d"], "range": ["#ffffff", "#e01010", "#19e619"]}, "legend": null}}},
    {"data": {"name": "macdleg"}, "mark": {"type": "text", "fontSize": 6, "color": "#dddddd", "align": "left", "baseline": "middle"},
     "encoding": {"x": {"datum": 3.2, "axis": null}, "y": {"field": "n", "type": "quantitative", "axis": null}, "text": {"field": "lab"}}},
    {"data": {"name": "macdleg"}, "mark": {"type": "text", "fontSize": 6, "color": "#dddddd", "align": "right", "baseline": "middle"},
     "encoding": {"x": {"datum": 16.6, "axis": null}, "y": {"field": "n", "type": "quantitative", "axis": null}, "text": {"field": "val"}}}
   ]
  }
 ]
},
{
 "width": 903, "height": 14,
 "view": {"stroke": null},
 "layer": [
  {"data": {"values": [{"i": 17.8}, {"i": 148.4}]}, "mark": {"type": "rule", "color": "#7a7a7a"},
   "encoding": {"x": {"field": "i", "type": "quantitative", "scale": {"domain": [-0.6, 180], "nice": false, "zero": false}, "axis": null},
    "y": {"datum": 0, "type": "quantitative", "scale": {"domain": [0, 1], "reverse": true, "nice": false, "zero": false}, "axis": null}, "y2": {"datum": 1}}},
  {"data": {"name": "days"}, "mark": {"type": "text", "fontSize": 7, "color": "#d0d0d0", "baseline": "middle"},
   "encoding": {"x": {"field": "i", "type": "quantitative", "axis": null}, "y": {"datum": 0.22, "axis": null}, "text": {"field": "t"}}},
  {"data": {"name": "months"}, "mark": {"type": "text", "fontSize": 7, "color": "#d0d0d0", "baseline": "middle"},
   "encoding": {"x": {"field": "i", "type": "quantitative", "axis": null}, "y": {"datum": 0.8, "axis": null}, "text": {"field": "t"}}}
 ]
}
]
}
